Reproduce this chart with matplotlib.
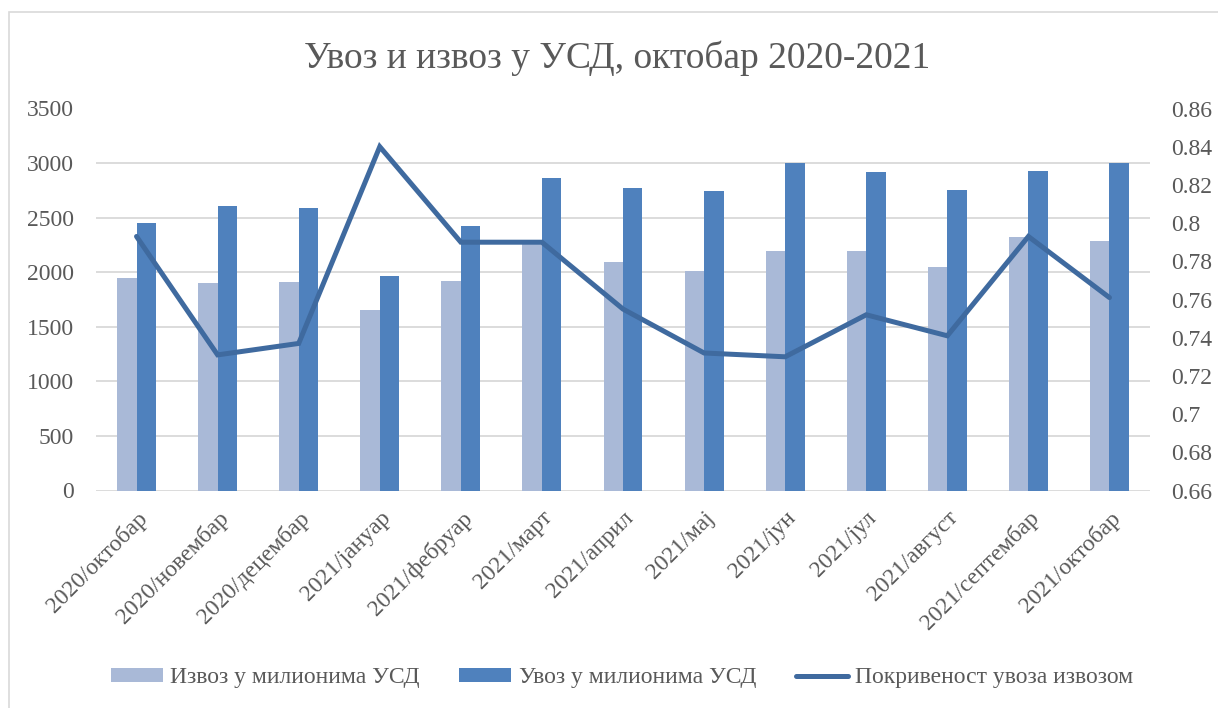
import matplotlib.pyplot as plt
import matplotlib.patches as patches
import numpy as np

# podaci procitani sa grafika
meseci = ["2020/октобар", "2020/новембар", "2020/децембар", "2021/јануар",
          "2021/фебруар", "2021/март", "2021/април", "2021/мај", "2021/јун",
          "2021/јул", "2021/август", "2021/септембар", "2021/октобар"]
izvoz = [1950, 1905, 1910, 1650, 1920, 2260, 2095, 2010, 2190, 2195, 2045, 2320, 2285]
uvoz = [2455, 2605, 2590, 1965, 2425, 2860, 2775, 2745, 3005, 2920, 2755, 2930, 3000]
pokrivenost = [0.793, 0.731, 0.737, 0.840, 0.790, 0.790, 0.755, 0.732, 0.730,
               0.752, 0.741, 0.793, 0.761]

levi_ticks = [0, 500, 1000, 1500, 2000, 2500, 3000, 3500]
desni_ticks = [0.66, 0.68, 0.7, 0.72, 0.74, 0.76, 0.78, 0.8, 0.82, 0.84, 0.86]

c_izvoz = '#A9B9D7'
c_uvoz = '#4F81BD'
c_linija = '#3F6A9F'
c_tekst = '#595959'
font = 'Liberation Serif'
fs = 17

fig = plt.figure(figsize=(12.18, 7.08), dpi=100)
fig.patch.set_facecolor('white')

# okvir oko grafika
okvir = patches.Rectangle((9 / 1218, -0.05), 1.2, 1 - 12.5 / 708 + 0.05,
                          transform=fig.transFigure, fill=False,
                          edgecolor='#D9D9D9', linewidth=1.2)
fig.patches.append(okvir)

ax = fig.add_axes([96 / 1218, 1 - 490.5 / 708, (1150 - 96) / 1218, (490.5 - 108.5) / 708])
x = np.arange(len(meseci))
w = 0.24
ax.bar(x - w / 2, izvoz, w, color=c_izvoz, label='Извоз у милионима УСД', zorder=2)
ax.bar(x + w / 2, uvoz, w, color=c_uvoz, label='Увоз у милионима УСД', zorder=2)
ax.set_xlim(-0.5, len(meseci) - 0.5)
ax.set_ylim(0, 3500)
ax.set_yticks(levi_ticks)
ax.set_yticklabels([str(t) for t in levi_ticks], fontfamily=font, fontsize=fs, color=c_tekst)
ax.set_xticks(x)
ax.set_xticklabels(meseci, rotation=45, ha='right', rotation_mode='anchor',
                   fontfamily=font, fontsize=fs, color=c_tekst)
ax.tick_params(axis='y', length=0, pad=16)
ax.tick_params(axis='x', length=0, pad=12)
ax.grid(axis='y', color='#D9D9D9', linewidth=1.3, zorder=0)
ax.set_axisbelow(True)
for s in ax.spines.values():
    s.set_visible(False)

ax2 = ax.twinx()
ax2.plot(x, pokrivenost, color=c_linija, linewidth=3.6, solid_capstyle='round',
         solid_joinstyle='miter', label='Покривеност увоза извозом', zorder=3)
ax2.set_ylim(0.66, 0.86)
ax2.set_yticks(desni_ticks)
ax2.set_yticklabels([('%g' % t) for t in desni_ticks], fontfamily=font, fontsize=fs, color=c_tekst)
ax2.tick_params(axis='y', length=0, pad=15)
for s in ax2.spines.values():
    s.set_visible(False)

fig.text(617 / 1218, 1 - 58 / 708, 'Увоз и извоз у УСД, октобар 2020-2021', ha='center', va='center',
         fontfamily=font, fontsize=27, color=c_tekst)

h1, l1 = ax.get_legend_handles_labels()
h2, l2 = ax2.get_legend_handles_labels()
leg = fig.legend(h1 + h2, l1 + l2, loc='center', bbox_to_anchor=(622 / 1218, 1 - 678 / 708),
                 ncol=3, frameon=False, handlelength=2.2, handleheight=0.53,
                 handletextpad=0.3, columnspacing=1.7,
                 prop={'family': font, 'size': fs})
for t in leg.get_texts():
    t.set_color(c_tekst)

fig.savefig('out.png', dpi=100)
